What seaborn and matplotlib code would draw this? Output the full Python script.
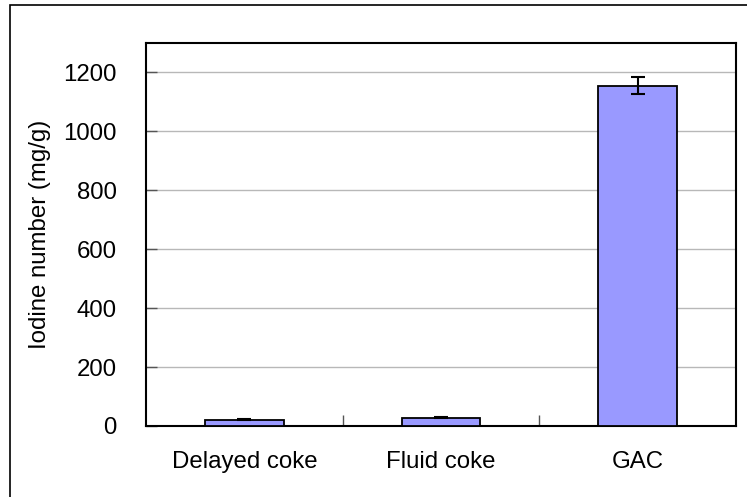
import matplotlib
matplotlib.use("Agg")
import matplotlib.pyplot as plt
from matplotlib.patches import Rectangle
import seaborn as sns
import pandas as pd

categories = ["Delayed coke", "Fluid coke", "GAC"]
iodine = [22, 28, 1155]
iodine_err = [3, 2, 28]
yticks = [0, 200, 400, 600, 800, 1000, 1200]

sns.set_theme(style="white")
plt.rcParams["font.family"] = ["Liberation Sans", "DejaVu Sans"]
plt.rcParams["text.color"] = "black"
plt.rcParams["axes.labelcolor"] = "black"
plt.rcParams["xtick.color"] = "black"
plt.rcParams["ytick.color"] = "black"

FS = 17.3

fig = plt.figure(figsize=(7.47, 4.97), dpi=100)
ax = fig.add_axes([146 / 747, 1 - 426 / 497, 590 / 747, 383 / 497])

df = pd.DataFrame({"material": categories, "iodine": iodine})
sns.barplot(data=df, x="material", y="iodine", ax=ax, color="#9999FF",
            saturation=1, width=0.4, edgecolor="black", linewidth=1.3,
            errorbar=None, zorder=3)
ax.errorbar(range(len(categories)), iodine, yerr=iodine_err, fmt="none",
            ecolor="black", elinewidth=1.5, capsize=4.7, capthick=1.5, zorder=4)

ax.set_ylim(0, 1300)
ax.set_xlim(-0.5, len(categories) - 0.5)
ax.set_yticks(yticks)
ax.yaxis.grid(True, color="#b8b8b8", linewidth=1)
ax.set_axisbelow(True)

ax.set_xlabel("")
ax.set_ylabel("Iodine number (mg/g)", fontsize=FS, labelpad=9)
ax.tick_params(axis="y", direction="in", length=8, width=1, color="#555555",
               labelcolor="black", labelsize=FS, pad=21, left=True)
ax.tick_params(axis="x", which="major", length=0, labelsize=FS,
               labelcolor="black", pad=18)
ax.set_xticks([0.5, 1.5], minor=True)
ax.tick_params(axis="x", which="minor", direction="in", length=8, width=1,
               color="#555555", bottom=True)

for s in ax.spines.values():
    s.set_visible(True)
    s.set_color("black")
    s.set_linewidth(1.5)

fig.patches.append(Rectangle((10 / 747, -0.1), 1.2, 1.1 - 5 / 497,
                             transform=fig.transFigure, fill=False,
                             edgecolor="black", linewidth=1.2))

fig.savefig("out.png", dpi=100)
